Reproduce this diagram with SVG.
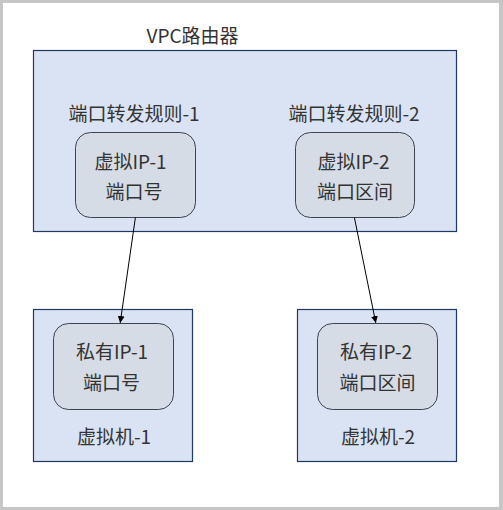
<svg xmlns="http://www.w3.org/2000/svg" width="503" height="510" viewBox="0 0 503 510">
<defs>
<style>
.box{fill:#dae3f3;stroke:#1f3864;stroke-width:1.2}
.node{fill:#d6dce5;stroke:#3b4453;stroke-width:1}
text{font-family:"Noto Sans CJK SC","Noto Sans",sans-serif;font-size:19px;fill:#333333;text-anchor:middle}
.edge{stroke:#000;stroke-width:1;fill:none;marker-end:url(#arr)}
</style>
<marker id="arr" viewBox="0 0 10 10" refX="10" refY="5" markerWidth="7" markerHeight="7" orient="auto" markerUnits="userSpaceOnUse">
<path d="M0,0 L10,5 L0,10 z" fill="#000"/>
</marker>
</defs>
<rect x="0" y="0" width="503" height="510" fill="#c6c6c6"/>
<rect x="3" y="3" width="496" height="504" fill="#ffffff"/>
<g id="vpc">
<rect class="box" x="33.5" y="50.5" width="423" height="181"/>
<text x="192.5" y="43">VPC路由器</text>
<text x="134" y="121">端口转发规则-1</text>
<text x="354" y="121">端口转发规则-2</text>
</g>
<g id="vip1">
<rect class="node" x="75.5" y="132.5" width="120" height="85" rx="15"/>
<text x="130.5" y="168.5">虚拟IP-1</text>
<text x="134" y="199">端口号</text>
</g>
<g id="vip2">
<rect class="node" x="295.5" y="132.5" width="119" height="85" rx="15"/>
<text x="353.5" y="168.5">虚拟IP-2</text>
<text x="355" y="199">端口区间</text>
</g>
<g id="vm1">
<rect class="box" x="33.5" y="309.5" width="159" height="152"/>
<rect class="node" x="53.5" y="323.5" width="120" height="86" rx="15"/>
<text x="112" y="359">私有IP-1</text>
<text x="111.5" y="390">端口号</text>
<text x="114" y="443.5">虚拟机-1</text>
</g>
<g id="vm2">
<rect class="box" x="297.5" y="309.5" width="159" height="152"/>
<rect class="node" x="317.5" y="323.5" width="120" height="86" rx="15"/>
<text x="376" y="359">私有IP-2</text>
<text x="377.5" y="390">端口区间</text>
<text x="378" y="443.5">虚拟机-2</text>
</g>
<g id="connectors">
<line class="edge" x1="135.4" y1="217.5" x2="120.2" y2="323"/>
<line class="edge" x1="354.4" y1="217.5" x2="375.8" y2="323"/>
</g>
</svg>
